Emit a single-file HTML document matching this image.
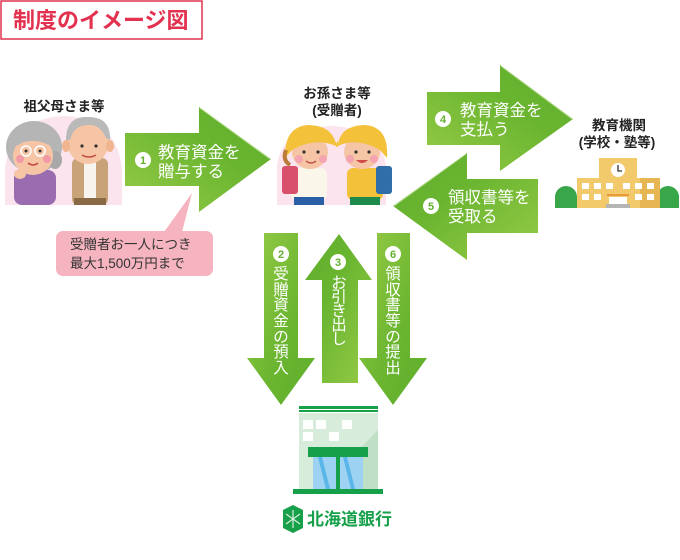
<!DOCTYPE html>
<html><head><meta charset="utf-8"><style>
html,body{margin:0;padding:0;background:#fff;}
svg{display:block;}
text{font-family:"Liberation Sans","Noto Sans CJK JP",sans-serif;}
.w{fill:#fff;font-size:16.5px;}
.v{fill:#fff;font-size:15.5px;text-anchor:middle;}
.n{fill:#63b02f;font-size:11px;font-weight:bold;text-anchor:middle;}
.lb{fill:#222;font-size:13.5px;font-weight:bold;text-anchor:middle;}
</style></head><body>
<svg width="680" height="560" viewBox="0 0 680 560" xmlns="http://www.w3.org/2000/svg">
<defs>
<linearGradient id="gh" x1="0" y1="1" x2="1" y2="0"><stop offset="0" stop-color="#97cb47"/><stop offset="0.6" stop-color="#6ab530"/><stop offset="1" stop-color="#5fae2c"/></linearGradient>
<linearGradient id="gl" x1="1" y1="1" x2="0" y2="0"><stop offset="0" stop-color="#97cb47"/><stop offset="0.6" stop-color="#6ab530"/><stop offset="1" stop-color="#5fae2c"/></linearGradient>
<linearGradient id="gv" x1="0" y1="0" x2="1" y2="1"><stop offset="0" stop-color="#97cb47"/><stop offset="0.6" stop-color="#6ab530"/><stop offset="1" stop-color="#5fae2c"/></linearGradient>
<linearGradient id="gu" x1="1" y1="1" x2="0" y2="0"><stop offset="0" stop-color="#97cb47"/><stop offset="0.6" stop-color="#6ab530"/><stop offset="1" stop-color="#5fae2c"/></linearGradient>
</defs>

<!-- Title -->
<rect x="1" y="1" width="201" height="38" fill="#fff" stroke="#e2324f" stroke-width="1.5"/>
<text x="13" y="28" style="font-size:22px;font-weight:bold;fill:#e2324f;">制度のイメージ図</text>

<!-- Grandparents -->
<text x="64" y="111" class="lb">祖父母さま等</text>
<path d="M5,205 L5,168 Q12,118 64,116 Q116,118 122,168 L122,205 Z" fill="#fbe4ee"/>
<!-- grandma -->
<ellipse cx="34" cy="147" rx="28" ry="26" fill="#b5b5b5"/>
<ellipse cx="55" cy="160" rx="7" ry="9" fill="#a8a8a8"/>
<rect x="14" y="170" width="42" height="35" rx="8" fill="#9a6cb0"/>
<ellipse cx="33" cy="156" rx="20" ry="19" fill="#f6c5a6"/>
<path d="M12,148 Q20,128 40,131 Q52,136 54,148 Q40,138 24,142 Z" fill="#b5b5b5"/>
<circle cx="26" cy="151" r="5" fill="none" stroke="#fff" stroke-width="1.5"/>
<circle cx="40" cy="151" r="5" fill="none" stroke="#fff" stroke-width="1.5"/>
<circle cx="26" cy="151" r="1.5" fill="#333"/><circle cx="40" cy="151" r="1.5" fill="#333"/>
<circle cx="20" cy="159" r="4" fill="#f19aa6"/><circle cx="47" cy="159" r="4" fill="#f19aa6"/>
<path d="M28,163 Q33,167 38,163" stroke="#c24a4a" stroke-width="1.5" fill="none"/>
<ellipse cx="20" cy="174" rx="6" ry="5" fill="#f6c5a6"/>
<!-- grandpa -->
<rect x="72" y="158" width="36" height="47" rx="6" fill="#c8a378"/>
<rect x="84" y="160" width="12" height="45" fill="#f7f4ee"/>
<rect x="74" y="198" width="32" height="7" fill="#8a6a45"/>
<ellipse cx="88" cy="142" rx="21" ry="22" fill="#f6c5a6"/>
<path d="M66,140 Q66,116 88,117 Q111,117 110,140 L106,138 Q100,124 88,125 Q74,125 70,140 Z" fill="#b9b9b9"/>
<ellipse cx="66" cy="146" rx="4" ry="6" fill="#f0b48f"/>
<ellipse cx="110" cy="146" rx="4" ry="6" fill="#f0b48f"/>
<circle cx="82" cy="146" r="1.6" fill="#333"/><circle cx="96" cy="146" r="1.6" fill="#333"/>
<path d="M82,155 Q89,159 96,155" stroke="#c24a4a" stroke-width="1.5" fill="none"/>

<!-- Balloon -->
<path d="M164,232 L192,193 L182,232 Z" fill="#f5b4bf"/>
<rect x="56" y="231" width="157" height="45" rx="7" fill="#f5b4bf"/>
<text x="70" y="249" style="font-size:13.5px;fill:#333;">受贈者お一人につき</text>
<text x="70" y="268" style="font-size:13.5px;fill:#333;">最大1,500万円まで</text>

<!-- Arrow 1 -->
<path d="M125,133 H199 V107 L271,159 L199,212 V186 H125 Z" fill="url(#gh)"/>
<path d="M200,108 L270,159" stroke="#d8ecb5" stroke-width="1" opacity="0.7"/>
<circle cx="143" cy="160" r="8" fill="#fff"/><text x="143" y="164" class="n">1</text>
<text x="158" y="158" class="w">教育資金を</text>
<text x="158" y="177" class="w">贈与する</text>

<!-- Grandchildren -->
<text x="337" y="98" class="lb">お孫さま等</text>
<text x="337" y="115" class="lb">(受贈者)</text>
<path d="M277,205 L277,165 Q282,128 331,126 Q380,128 386,165 L386,205 Z" fill="#fbe4ee"/>
<!-- kid1 -->
<rect x="291" y="168" width="36" height="32" rx="6" fill="#fbf6ea"/>
<rect x="294" y="197" width="30" height="8" fill="#2b5fa5"/>
<rect x="282" y="166" width="16" height="28" rx="3" fill="#d9506d"/>
<ellipse cx="310" cy="152" rx="18" ry="17" fill="#f6c5a6"/>
<path d="M285,158 Q284,126 309,125 Q333,126 336,145 L338,140 L338,147 Q320,138 300,146 L292,150 Z" fill="#f4c13a"/>
<path d="M286,150 Q282,160 290,165" stroke="#b97a3a" stroke-width="4" fill="none"/>
<circle cx="304" cy="152" r="1.6" fill="#333"/><circle cx="318" cy="152" r="1.6" fill="#333"/>
<circle cx="299" cy="159" r="4" fill="#f4a4ae"/><circle cx="323" cy="159" r="4" fill="#f4a4ae"/>
<path d="M306,161 Q311,165 316,161" stroke="#c24a4a" stroke-width="1.4" fill="none"/>
<!-- kid2 -->
<rect x="347" y="168" width="36" height="32" rx="6" fill="#f4c13a"/>
<rect x="350" y="197" width="30" height="8" fill="#1e8a4c"/>
<rect x="376" y="166" width="16" height="28" rx="3" fill="#2f6ea8"/>
<ellipse cx="362" cy="152" rx="18" ry="17" fill="#f6c5a6"/>
<path d="M387,158 Q389,126 364,125 Q340,126 338,145 L335,141 L336,147 Q352,138 372,146 L380,150 Z" fill="#f4c13a"/>
<circle cx="356" cy="152" r="1.6" fill="#333"/><circle cx="369" cy="152" r="1.6" fill="#333"/>
<circle cx="350" cy="159" r="4" fill="#f4a4ae"/><circle cx="374" cy="159" r="4" fill="#f4a4ae"/>
<path d="M356,160 Q362,166 368,160 Z" fill="#d24b4b"/>

<!-- Arrow 4 -->
<path d="M427,92 H500 V65 L573,119 L500,171 V145 H427 Z" fill="url(#gh)"/>
<path d="M501,66 L572,119" stroke="#d8ecb5" stroke-width="1" opacity="0.7"/>
<circle cx="443" cy="119" r="8" fill="#fff"/><text x="443" y="123" class="n">4</text>
<text x="460" y="116" class="w">教育資金を</text>
<text x="460" y="135" class="w">支払う</text>

<!-- Arrow 5 -->
<path d="M538,179 H467 V153 L393,206 L467,260 V233 H538 Z" fill="url(#gl)"/>
<path d="M466,154 L394,206" stroke="#d8ecb5" stroke-width="1" opacity="0.7"/>
<circle cx="431" cy="206" r="8" fill="#fff"/><text x="431" y="210" class="n">5</text>
<text x="448" y="203" class="w">領収書等を</text>
<text x="448" y="222" class="w">受取る</text>

<!-- School -->
<text x="619" y="130" class="lb">教育機関</text>
<text x="617" y="147" class="lb">(学校・塾等)</text>
<circle cx="566" cy="197" r="11" fill="#3aa64a"/><rect x="555" y="197" width="22" height="11" fill="#3aa64a"/>
<circle cx="668" cy="197" r="11" fill="#3aa64a"/><rect x="657" y="197" width="22" height="11" fill="#3aa64a"/>
<rect x="577" y="178" width="83" height="30" fill="#f2c96b"/>
<rect x="640" y="178" width="20" height="30" fill="#e6b653"/>
<rect x="599" y="158" width="38" height="22" fill="#f2c96b"/>
<circle cx="618" cy="170" r="7" fill="#fff"/>
<path d="M618,165 V171 H622" stroke="#333" stroke-width="1.3" fill="none"/>
<g fill="#fff">
<rect x="582" y="183" width="7" height="6"/><rect x="594" y="183" width="7" height="6"/><rect x="606" y="183" width="7" height="6"/><rect x="623" y="183" width="7" height="6"/><rect x="635" y="183" width="7" height="6"/><rect x="647" y="183" width="7" height="6"/>
<rect x="582" y="194" width="7" height="6"/><rect x="594" y="194" width="7" height="6"/><rect x="635" y="194" width="7" height="6"/><rect x="647" y="194" width="7" height="6"/>
<rect x="609" y="197" width="18" height="8"/>
</g>
<rect x="607" y="194" width="22" height="2" fill="#e89a3a"/>
<rect x="606" y="204" width="24" height="4" fill="#b5b5b5"/>

<!-- Arrow 2 -->
<path d="M264,233 H298 V358 H315 L281,405 L247,358 H264 Z" fill="url(#gv)"/>
<circle cx="281" cy="254" r="8" fill="#fff"/><text x="281" y="258" class="n">2</text>
<text class="v" x="281" y="279">受</text>
<text class="v" x="281" y="295">贈</text>
<text class="v" x="281" y="310">資</text>
<text class="v" x="281" y="326">金</text>
<text class="v" x="281" y="342">の</text>
<text class="v" x="281" y="357">預</text>
<text class="v" x="281" y="373">入</text>

<!-- Arrow 3 -->
<path d="M322,383 H358 V280 H372 L339,234 L305,280 H322 Z" fill="url(#gu)"/>
<circle cx="338" cy="262" r="8" fill="#fff"/><text x="338" y="266" class="n">3</text>
<text class="v" x="339" y="288">お</text>
<text class="v" x="339" y="302">引</text>
<text class="v" x="339" y="316">き</text>
<text class="v" x="339" y="330">出</text>
<text class="v" x="339" y="344">し</text>

<!-- Arrow 6 -->
<path d="M377,233 H410 V358 H427 L393,405 L359,358 H377 Z" fill="url(#gv)"/>
<circle cx="393" cy="254" r="8" fill="#fff"/><text x="393" y="258" class="n">6</text>
<text class="v" x="393" y="279">領</text>
<text class="v" x="393" y="295">収</text>
<text class="v" x="393" y="310">書</text>
<text class="v" x="393" y="326">等</text>
<text class="v" x="393" y="342">の</text>
<text class="v" x="393" y="357">提</text>
<text class="v" x="393" y="373">出</text>

<!-- Bank -->
<rect x="299" y="406" width="79" height="3" fill="#17a04a"/>
<rect x="299" y="410" width="79" height="2" fill="#17a04a"/>
<rect x="299" y="413" width="79" height="77" fill="#d7ecdb"/>
<path d="M378,430 L378,490 L320,490 Z" fill="#bfe0c5"/>
<g fill="#fff">
<rect x="303" y="420" width="10" height="9"/><rect x="316" y="420" width="10" height="9"/><rect x="342" y="420" width="10" height="9"/>
<rect x="303" y="432" width="10" height="9"/><rect x="329" y="432" width="10" height="9"/>
</g>
<rect x="313" y="457" width="50" height="32" fill="#9dd2f2"/>
<path d="M318,457 L326,489 L330,489 L322,457 Z M343,457 L351,489 L355,489 L347,457 Z" fill="#5ab6e8"/>
<rect x="308" y="447" width="60" height="10" fill="#17a04a"/>
<rect x="336" y="457" width="4" height="33" fill="#17a04a"/>
<rect x="293" y="489" width="90" height="5" fill="#17a04a"/>

<!-- Bank logo -->
<path d="M293,505 L303,510 L303,528 L293,533 L283,528 L283,510 Z" fill="#17a04a"/>
<g stroke="#d8f0dc" stroke-width="1.2">
<line x1="293" y1="510" x2="293" y2="528"/><line x1="286" y1="514" x2="300" y2="524"/><line x1="300" y1="514" x2="286" y2="524"/>
</g>
<text x="307" y="525" style="font-size:17px;font-weight:bold;fill:#17a04a;">北海道銀行</text>
</svg>
</body></html>
